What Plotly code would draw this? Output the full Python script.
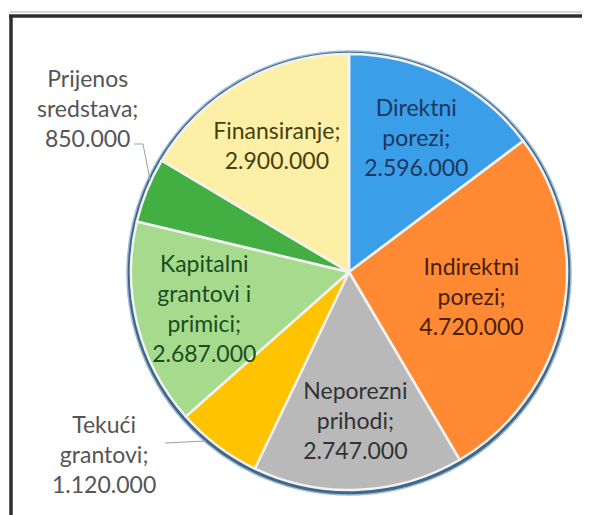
import plotly.graph_objects as go

# ---- data ----
labels = ["Direktni porezi", "Indirektni porezi", "Neporezni prihodi", "Tekući grantovi",
          "Kapitalni grantovi i primici", "Prijenos sredstava", "Finansiranje"]
label_lines = ["Direktni<br>porezi;", "Indirektni<br>porezi;", "Neporezni<br>prihodi;",
               "Tekući<br>grantovi;", "Kapitalni<br>grantovi i<br>primici;",
               "Prijenos<br>sredstava;", "Finansiranje;"]
values = [2596000, 4720000, 2747000, 1120000, 2687000, 850000, 2900000]
outside = ["Tekući grantovi", "Prijenos sredstava"]

colors = ["#3A9FE8", "#FF8A33", "#B9B9B9", "#FFC300", "#A6DB8E", "#43AF43", "#FDF0A6"]
text_colors = ["#1F3660", "#4A2006", "#333333", "#333333", "#1A4E1E", "#1A4E1E", "#464010"]

W, H = 590, 515
OFF = 8  # page body margin: figure starts 8px into the window
FONT = "Lato, 'Open Sans', sans-serif"
FS = 23


def fmt(v):
    return f"{v:,}".replace(",", ".")


texts = []
for lab, lines, v in zip(labels, label_lines, values):
    texts.append("" if lab in outside else f"{lines}<br>{fmt(v)}")

cx, cy, r = 349, 272, 218  # pie centre/radius in window pixels


def px(x):
    return (x - OFF) / W


def py(y):
    return 1 - (y - OFF) / H


fig = go.Figure()
fig.add_trace(go.Pie(
    labels=labels, values=values, text=texts, textinfo="text",
    sort=False, direction="clockwise", rotation=0,
    marker=dict(colors=colors, line=dict(color="#F2F2F2", width=2.5)),
    textposition="inside", insidetextorientation="horizontal",
    insidetextfont=dict(family=FONT, size=FS, color=text_colors),
    showlegend=False, hoverinfo="label+value",
    domain=dict(x=[px(cx - r), px(cx + r)], y=[py(cy + r), py(cy - r)]),
))

shapes = [
    # rim of the pie
    dict(type="circle", xref="paper", yref="paper", layer="below",
         x0=px(cx - r - 4), x1=px(cx + r + 4), y0=py(cy + r + 5), y1=py(cy - r - 3),
         fillcolor="#3F6888", line=dict(color="#9DBAD4", width=1.5)),
    # frame
    dict(type="line", xref="paper", yref="paper", x0=px(10), x1=1.0, y0=py(12), y1=py(12),
         line=dict(color="#D6D6D6", width=2)),
    dict(type="line", xref="paper", yref="paper", x0=px(9), x1=1.0, y0=py(16), y1=py(16),
         line=dict(color="#2E2E2E", width=3.5)),
    dict(type="line", xref="paper", yref="paper", x0=px(11), x1=px(11), y0=py(15), y1=0,
         line=dict(color="#2E2E2E", width=3.5)),
    # leader lines
    dict(type="path", xref="paper", yref="paper",
         path=f"M {px(134)} {py(144)} L {px(143)} {py(144)} L {px(150)} {py(180)}",
         line=dict(color="#A0A0A0", width=1)),
    dict(type="line", xref="paper", yref="paper", x0=px(165), x1=px(206), y0=py(443), y1=py(441),
         line=dict(color="#A0A0A0", width=1)),
]

annotations = []
pos = {"Prijenos sredstava": (87, 108), "Tekući grantovi": (104, 454)}
for lab, lines, v in zip(labels, label_lines, values):
    if lab in outside:
        x, y = pos[lab]
        annotations.append(dict(
            x=px(x), y=py(y), xref="paper", yref="paper", showarrow=False,
            xanchor="center", yanchor="middle",
            text=f"{lines}<br>{fmt(v)}", align="center",
            font=dict(family=FONT, size=FS, color="#555555"),
        ))

fig.update_layout(
    width=W, height=H, margin=dict(l=0, r=0, t=0, b=0),
    paper_bgcolor="white", plot_bgcolor="white",
    shapes=shapes, annotations=annotations,
    uniformtext=dict(minsize=FS, mode="show"),
)
fig.write_html("out.html")
